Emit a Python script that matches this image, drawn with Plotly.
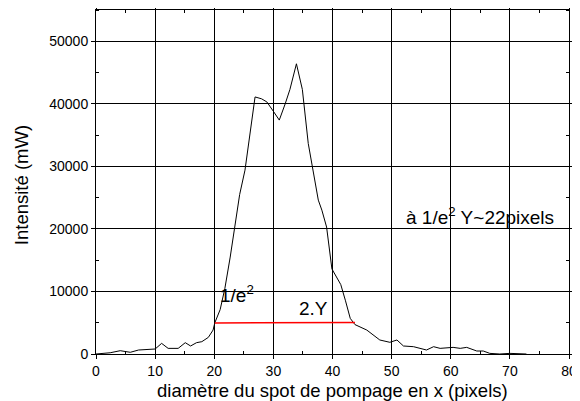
import plotly.graph_objects as go

# Profile data (x in pixels, intensity in mW)
x_vals = [0, 2.4, 4.1, 5.8, 7.2, 8.8, 10.0, 11.1, 12.2, 13.9, 15.1, 16.0, 17.0, 17.9,
          19.0, 19.8, 20.1, 21.0, 21.8, 22.7, 23.5, 24.3, 25.2, 26.9, 28.0, 28.9, 30.0,
          31.0, 32.0, 32.8, 33.9, 34.9, 35.9, 36.8, 37.6, 38.2, 39.0, 39.9, 41.4, 42.2,
          43.0, 43.8, 45.8, 48.0, 49.7, 50.9, 52.0, 53.7, 55.9, 57.1, 58.2, 60.4, 61.6,
          62.7, 64.4, 65.5, 66.6, 68.3, 70.0, 72.8]
y_vals = [0, 200, 530, 270, 640, 750, 800, 1700, 900, 900, 1810, 1280, 1810, 1970,
          2660, 3830, 5000, 7100, 10500, 15500, 20900, 25500, 29400, 41100, 40800, 40300, 38800,
          37400, 40000, 42300, 46400, 42300, 33650, 29000, 24600, 23000, 20300, 13600, 11100, 8500,
          5700, 4700, 3830, 2240, 1870, 2240, 1280, 1170, 640, 1170, 900, 1060, 900,
          1060, 480, 480, 100, 0, 100, 0]

# 1/e^2 width marker
width_x = [20.1, 43.8]
width_y = [4950, 5050]

x_ticks = [0, 10, 20, 30, 40, 50, 60, 70, 80]
y_ticks = [0, 10000, 20000, 30000, 40000, 50000]

FONT = "Arial, Liberation Sans, sans-serif"
ANN = dict(size=19, color="black", family=FONT)
TITLE = dict(size=18.5, color="black", family=FONT)

fig = go.Figure()
fig.add_trace(go.Scatter(x=x_vals, y=y_vals, mode="lines",
                         line=dict(color="black", width=1), showlegend=False))
fig.add_trace(go.Scatter(x=width_x, y=width_y, mode="lines",
                         line=dict(color="#ff0000", width=1.5), showlegend=False))

fig.add_annotation(x=20.6, y=9600, text="1/e<sup>2</sup>", showarrow=False,
                   xanchor="left", yanchor="middle", font=ANN)
fig.add_annotation(x=36.8, y=7300, text="2.Y", showarrow=False,
                   xanchor="center", yanchor="middle", font=ANN)
fig.add_annotation(x=64.9, y=22000, text="à 1/e<sup>2</sup> Y~22pixels", showarrow=False,
                   xanchor="center", yanchor="middle", font=ANN)

# axis titles as paper annotations
fig.add_annotation(x=0.5, y=-0.071, xref="paper", yref="paper", yanchor="top",
                   text="diamètre du spot de pompage en x (pixels)", showarrow=False, font=TITLE)
fig.add_annotation(x=-0.157, y=0.49, xref="paper", yref="paper", textangle=-90,
                   xanchor="center", yanchor="middle",
                   text="Intensité (mW)", showarrow=False, font=TITLE)

axis_common = dict(showline=True, linecolor="black", linewidth=1, mirror="ticks",
                   showgrid=True, gridcolor="black", gridwidth=1, zeroline=False,
                   ticks="outside", ticklen=4, tickcolor="black", automargin=False,
                   tickfont=dict(size=14, color="black", family=FONT))

fig.update_xaxes(range=[0, 80], tickvals=x_ticks, ticktext=[str(v) for v in x_ticks],
                 minor=dict(tickvals=[5, 15, 25, 35, 45, 55, 65, 75], ticks="inside",
                            ticklen=3, tickcolor="black", showgrid=False),
                 **axis_common)
fig.update_yaxes(range=[0, 55000], tickvals=y_ticks, ticktext=[str(v) for v in y_ticks],
                 minor=dict(tickvals=[5000, 15000, 25000, 35000, 45000, 55000], ticks="inside",
                            ticklen=3, tickcolor="black", showgrid=False),
                 **axis_common)

# page body has an 8px margin, so the figure is sized/offset to compensate
fig.update_layout(width=572, height=393, plot_bgcolor="white", paper_bgcolor="white",
                  margin=dict(l=88, r=11, t=2, b=47, autoexpand=False),
                  font=dict(family=FONT, color="black"))

fig.write_html("out.html")
